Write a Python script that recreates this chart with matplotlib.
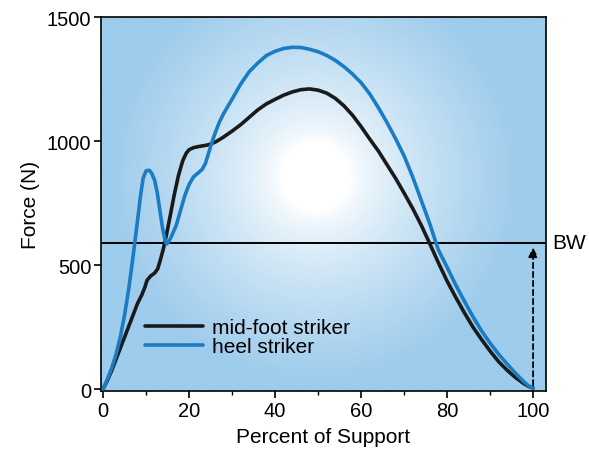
import numpy as np
import matplotlib
matplotlib.use("Agg")
import matplotlib.pyplot as plt

plt.rcParams['font.family'] = ['Liberation Sans', 'DejaVu Sans']

# Data
mid_x = [0, 1, 2, 3, 4, 5, 6, 7, 8, 9, 9.7, 10.2, 11, 12, 12.7, 13.3, 14, 14.7, 15.5, 16.5,
         17.5, 18.5, 19.3, 20, 21, 22, 23, 24, 25, 26, 27, 28, 30, 32, 34, 36, 38, 40, 42, 44,
         46, 48, 50, 52, 54, 56, 58, 60, 62, 64, 66, 68, 70, 72, 74, 76, 78, 80, 82, 84,
         86, 88, 90, 92, 94, 96, 98, 99, 100]
mid_y = [0, 35, 75, 120, 165, 210, 255, 300, 345, 380, 410, 438, 455, 468, 485, 520, 565, 620, 690, 780,
         860, 920, 950, 965, 973, 977, 980, 983, 988, 995, 1005, 1016, 1040, 1066, 1096, 1126, 1150, 1168, 1185, 1198,
         1207, 1210, 1205, 1193, 1172, 1142, 1104, 1058, 1008, 960, 905, 850, 790, 728, 660, 585, 508, 435, 370, 308,
         250, 200, 153, 110, 75, 45, 20, 10, 4]

heel_x = [0, 1, 2, 3, 4, 5, 6, 7, 8, 8.7, 9.3, 10, 10.7, 11.3, 12, 12.6, 13.2, 13.8, 14.4, 14.8,
          15.3, 16, 17, 18, 19, 20, 21, 22, 23, 23.8, 24.5, 25.3, 26, 27, 28, 29, 30, 32, 34, 36,
          38, 40, 42, 44, 46, 48, 50, 52, 54, 56, 58, 60, 62, 64, 66, 68, 70, 72, 74, 76,
          77.4, 78, 80, 82, 84, 86, 88, 90, 92, 94, 96, 98, 99, 100]
heel_y = [0, 40, 85, 140, 210, 300, 410, 540, 680, 780, 850, 880, 882, 870, 840, 790, 720, 650, 600, 585,
          595, 620, 660, 720, 780, 825, 855, 870, 885, 910, 950, 995, 1030, 1075, 1110, 1140, 1169, 1230, 1280, 1315,
          1345, 1362, 1373, 1378, 1377, 1370, 1360, 1345, 1325, 1300, 1270, 1235, 1190, 1135, 1075, 1010, 940, 855, 760, 665,
          590, 560, 491, 420, 355, 292, 235, 185, 140, 100, 62, 27, 12, 5]

bw = 590
series_labels = ["mid-foot striker", "heel striker"]
xticks = [0, 20, 40, 60, 80, 100]
yticks = [0, 500, 1000, 1500]

fig = plt.figure(figsize=(5.89, 4.52), dpi=100)
ax = fig.add_axes([101/589, 1-392/452, 445/589, 374/452])

xlim = (-0.5, 103)
ylim = (-8, 1500)
ax.set_xlim(*xlim)
ax.set_ylim(*ylim)

# background gradient (radial, white centre fading to light blue)
h, w = 200, 240
yy, xx = np.mgrid[0:h, 0:w]
cx, cy = 0.48 * w, 0.57 * h
d = np.sqrt(((xx - cx) / w * 445) ** 2 + ((yy - cy) / h * 374) ** 2)
t = np.clip((d - 35) / 170, 0, 1) ** 0.7
edge = np.array([158, 204, 236]) / 255.0
white = np.array([1.0, 1.0, 1.0])
img = white[None, None, :] * (1 - t[..., None]) + edge[None, None, :] * t[..., None]
ax.imshow(img, extent=[xlim[0], xlim[1], ylim[0], ylim[1]], origin='lower',
          aspect='auto', zorder=0, interpolation='bilinear')

ax.axhline(bw, color='black', lw=1.4, zorder=2)

l1, = ax.plot(mid_x, mid_y, color='#1a1a1a', lw=2.6, zorder=3,
              solid_capstyle='round', solid_joinstyle='round')
l2, = ax.plot(heel_x, heel_y, color='#1a7cc2', lw=2.6, zorder=3,
              solid_capstyle='round', solid_joinstyle='round')

ax.annotate('', xy=(100, bw - 8), xytext=(100, 3),
            arrowprops=dict(arrowstyle='-|>', color='black', lw=1.3,
                            linestyle=(0, (3, 2)), mutation_scale=14), zorder=4)

ax.text(1.015, (bw - ylim[0]) / (ylim[1] - ylim[0]), 'BW', transform=ax.transAxes,
        fontsize=15, va='center', ha='left')

leg = ax.legend([l1, l2], series_labels, loc='lower left',
                bbox_to_anchor=(0.099, 0.093), frameon=False, fontsize=15,
                handlelength=2.8, handletextpad=0.4, labelspacing=0.0,
                borderaxespad=0, borderpad=0)

ax.set_xticks(xticks)
ax.set_xticks([10, 30, 50, 70, 90], minor=True)
ax.set_yticks(yticks)
ax.tick_params(axis='both', which='major', labelsize=14.5, direction='out', length=5, width=1.2, pad=2)
ax.tick_params(axis='x', which='minor', direction='out', length=3, width=1.0)
for s in ax.spines.values():
    s.set_linewidth(1.2)

ax.set_xlabel('Percent of Support', fontsize=15, labelpad=5)
ax.set_ylabel('Force (N)', fontsize=15, labelpad=5)

fig.savefig('out.png', dpi=100)
